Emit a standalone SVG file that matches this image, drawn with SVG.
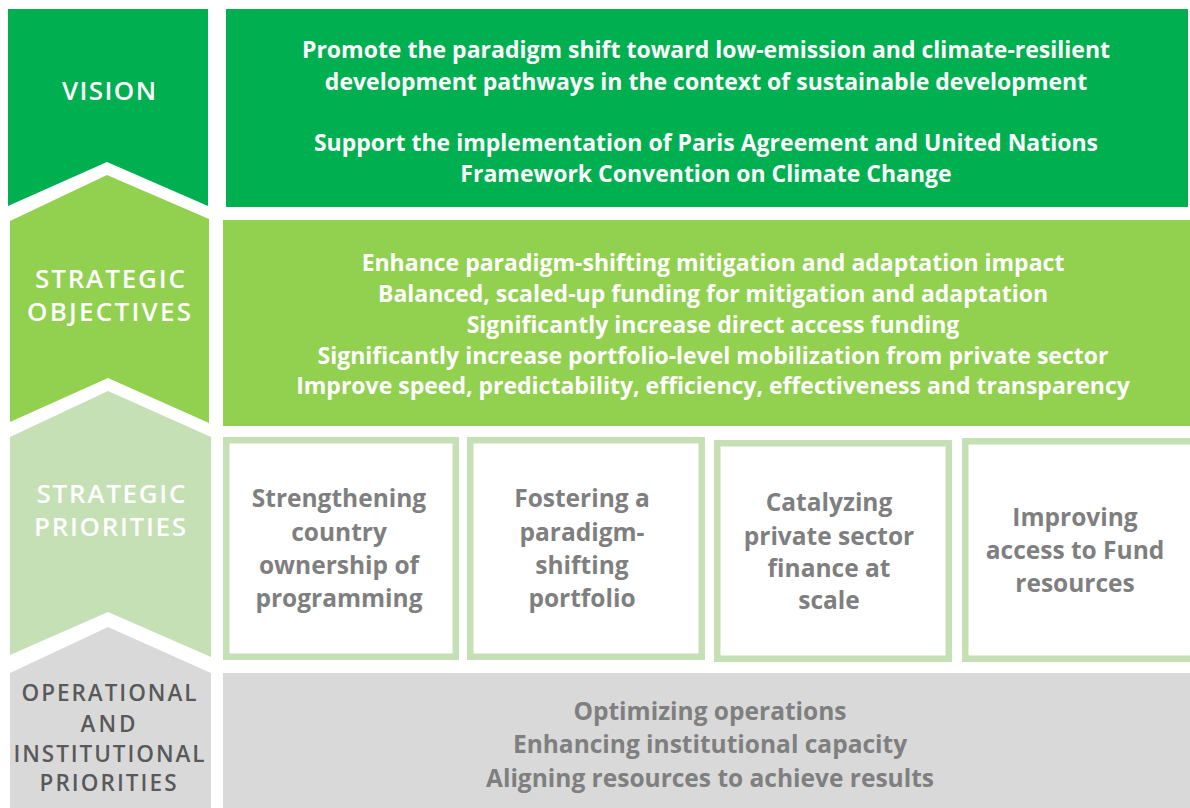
<svg xmlns="http://www.w3.org/2000/svg" width="1190" height="808" viewBox="0 0 1190 808">
<style>
.lbl{font-family:"Open Sans","Liberation Sans",sans-serif;font-weight:600;font-size:26px;text-anchor:middle;fill:#ffffff}
.lblg{font-family:"Open Sans","Liberation Sans",sans-serif;font-weight:600;font-size:22.5px;text-anchor:middle;fill:#595959}
.body{font-family:"Open Sans","Liberation Sans",sans-serif;font-weight:700;font-size:23px;text-anchor:middle;fill:#ffffff}
.grey{font-family:"Open Sans","Liberation Sans",sans-serif;font-weight:700;font-size:24.5px;text-anchor:middle;fill:#7f7f7f}
.pri{font-family:"Open Sans","Liberation Sans",sans-serif;font-weight:700;font-size:24.5px;text-anchor:middle;fill:#7f7f7f}
.box{fill:#ffffff;stroke:#c5e0b4;stroke-width:6.5}
</style>
<rect width="1190" height="808" fill="#ffffff"/>
<g id="vision">
<path d="M8,9 H208 V206 L107,162 L8,206 Z" fill="#00b050"/>
<text class="lbl" x="109" y="100" textLength="94" lengthAdjust="spacing">VISION</text>
<rect x="226" y="9" width="962" height="198" fill="#00b050"/>
<text class="body" x="706" y="58">Promote the paradigm shift toward low-emission and climate-resilient</text>
<text class="body" x="706" y="90">development pathways in the context of sustainable development</text>
<text class="body" x="706" y="151">Support the implementation of Paris Agreement and United Nations</text>
<text class="body" x="706" y="182">Framework Convention on Climate Change</text>
</g>
<g id="objectives">
<path d="M10,221 L107,175 L209,219 V423 L108,378 L10,422 Z" fill="#92d050"/>
<text class="lbl" x="110" y="288" textLength="150" lengthAdjust="spacing">STRATEGIC</text>
<text class="lbl" x="109" y="321" textLength="164" lengthAdjust="spacing">OBJECTIVES</text>
<rect x="223" y="220" width="967" height="206" fill="#92d050"/>
<text class="body" x="713" y="271">Enhance paradigm-shifting mitigation and adaptation impact</text>
<text class="body" x="713" y="302">Balanced, scaled-up funding for mitigation and adaptation</text>
<text class="body" x="713" y="333">Significantly increase direct access funding</text>
<text class="body" x="713" y="364">Significantly increase portfolio-level mobilization from private sector</text>
<text class="body" x="713" y="394">Improve speed, predictability, efficiency, effectiveness and transparency</text>
</g>
<g id="priorities">
<path d="M10,437 L108,391 L211,437 V657 L108,612 L10,655 Z" fill="#c5e0b4"/>
<text class="lbl" x="111" y="503" textLength="149" lengthAdjust="spacing">STRATEGIC</text>
<text class="lbl" x="110" y="536" textLength="152" lengthAdjust="spacing">PRIORITIES</text>
</g>
<g id="priority-1">
<rect class="box" x="226.25" y="440.25" width="229.5" height="216.5"/>
<text class="pri" x="339" y="507">Strengthening</text>
<text class="pri" x="339" y="541">country</text>
<text class="pri" x="339" y="574">ownership of</text>
<text class="pri" x="339" y="607">programming</text>
</g>
<g id="priority-2">
<rect class="box" x="470.25" y="440.25" width="231.5" height="216.5"/>
<text class="pri" x="582" y="507">Fostering a</text>
<text class="pri" x="582" y="541">paradigm-</text>
<text class="pri" x="582" y="574">shifting</text>
<text class="pri" x="582" y="607">portfolio</text>
</g>
<g id="priority-3">
<rect class="box" x="717.25" y="443.25" width="231.5" height="215.5"/>
<text class="pri" x="829" y="511">Catalyzing</text>
<text class="pri" x="829" y="545">private sector</text>
<text class="pri" x="829" y="577">finance at</text>
<text class="pri" x="829" y="609">scale</text>
</g>
<g id="priority-4">
<rect class="box" x="965.25" y="441.25" width="240" height="217.5"/>
<text class="pri" x="1075" y="526">Improving</text>
<text class="pri" x="1075" y="559">access to Fund</text>
<text class="pri" x="1075" y="592">resources</text>
</g>
<g id="operational">
<path d="M10,673 L108,627 L211,673 V808 H10 Z" fill="#d9d9d9"/>
<text class="lblg" x="109" y="701" textLength="175" lengthAdjust="spacing">OPERATIONAL</text>
<text class="lblg" x="108" y="732" textLength="55" lengthAdjust="spacing">AND</text>
<text class="lblg" x="109" y="762" textLength="191" lengthAdjust="spacing">INSTITUTIONAL</text>
<text class="lblg" x="108" y="791" textLength="137" lengthAdjust="spacing">PRIORITIES</text>
<rect x="223" y="673" width="967" height="135" fill="#d9d9d9"/>
<text class="grey" x="710" y="720">Optimizing operations</text>
<text class="grey" x="710" y="753">Enhancing institutional capacity</text>
<text class="grey" x="710" y="787">Aligning resources to achieve results</text>
</g>
<g id="connectors"></g>
</svg>
